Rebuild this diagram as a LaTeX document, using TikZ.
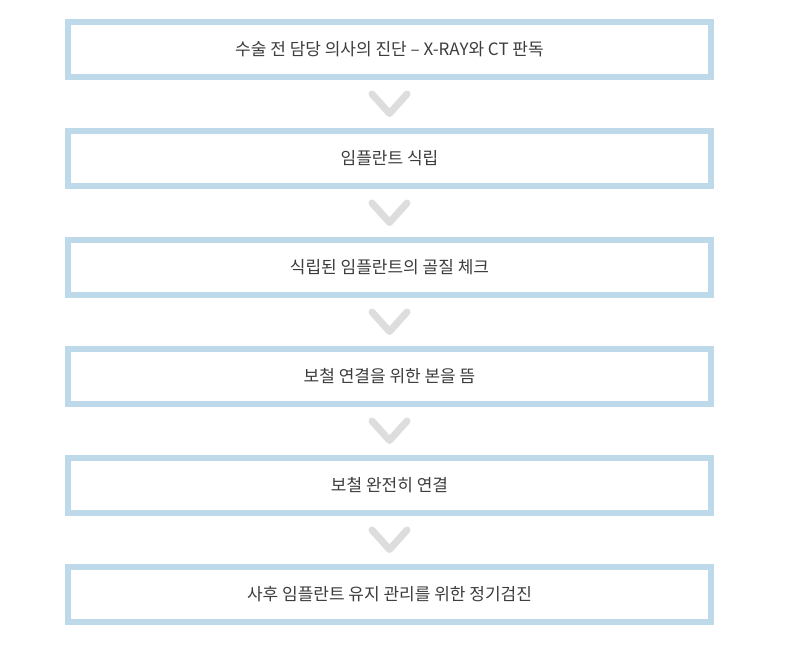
\documentclass[tikz,border=0pt]{standalone}
\usepackage{fontspec}
\setmainfont{Noto Sans CJK KR}
\usetikzlibrary{calc,positioning}
\definecolor{boxblue}{HTML}{BDD9EA}
\definecolor{arrgray}{HTML}{DDDDDD}
\definecolor{txtgray}{HTML}{3C3C3C}
\tikzstyle{stepbox}=[draw=boxblue,line width=6pt,minimum width=643pt,minimum height=55pt,text centered,text=txtgray,font=\fontsize{17pt}{20pt}\selectfont]
\tikzstyle{chev}=[draw=arrgray,line width=7pt,line cap=round,line join=round]

\begin{document}
\begin{tikzpicture}[node distance=48pt]
    \useasboundingbox (0pt,0pt) rectangle (793pt,-646pt);
    \node [stepbox] (s1) at (389.5pt,-49.5pt) {수술 전 담당 의사의 진단 – X-RAY와 CT 판독};
    \node [stepbox] (s2) [below=of s1] {임플란트 식립};
    \node [stepbox] (s3) [below=of s2] {식립된 임플란트의 골질 체크};
    \node [stepbox] (s4) [below=of s3] {보철 연결을 위한 본을 뜸};
    \node [stepbox] (s5) [below=of s4] {보철 완전히 연결};
    \node [stepbox] (s6) [below=of s5] {사후 임플란트 유지 관리를 위한 정기검진};

    % chevrons between the steps
    \foreach \a/\b in {s1/s2,s2/s3,s3/s4,s4/s5,s5/s6}{
      \coordinate (m) at ($(\a.south)!0.5!(\b.north)$);
      \draw[chev] ($(m)+(-17.5pt,10pt)$) -- ($(m)+(0pt,-9.5pt)$) -- ($(m)+(17.5pt,10pt)$);
    }
\end{tikzpicture}
\end{document}
